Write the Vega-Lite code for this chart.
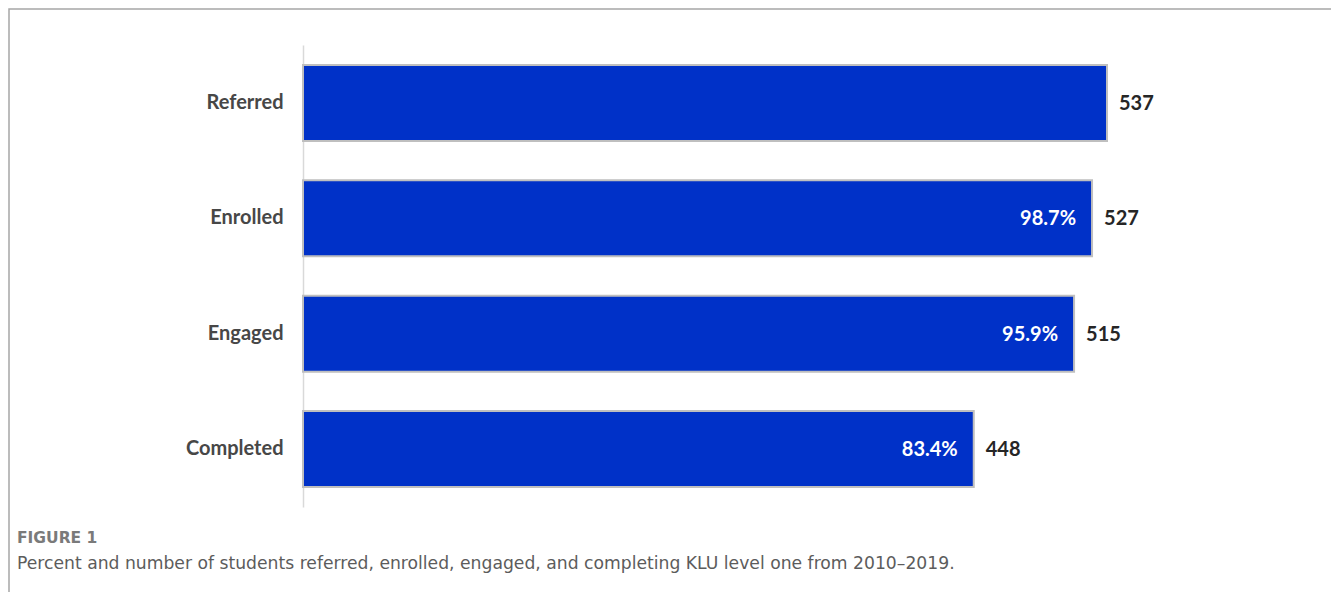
{
  "$schema": "https://vega.github.io/schema/vega-lite/v6.json",
  "width": 1330,
  "height": 590,
  "autosize": "none",
  "padding": {"left": 9, "top": 9, "right": 0, "bottom": 0},
  "background": "white",
  "config": {"view": {"stroke": "#a6a6a6", "strokeWidth": 1.5}},
  "title": {
    "text": "FIGURE 1",
    "subtitle": "Percent and number of students referred, enrolled, engaged, and completing KLU level one from 2010\u20132019.",
    "orient": "bottom",
    "anchor": "start",
    "frame": "group",
    "offset": -68,
    "dx": 8,
    "font": "DejaVu Sans",
    "fontSize": 15.5,
    "fontWeight": "bold",
    "color": "#7a7a7a",
    "subtitleFont": "DejaVu Sans",
    "subtitleFontSize": 17.2,
    "subtitleFontWeight": "normal",
    "subtitleColor": "#5c5c5c",
    "subtitlePadding": 8
  },
  "data": {
    "values": [
      {"stage": "Referred", "n": 537, "pct": ""},
      {"stage": "Enrolled", "n": 527, "pct": "98.7%"},
      {"stage": "Engaged", "n": 515, "pct": "95.9%"},
      {"stage": "Completed", "n": 448, "pct": "83.4%"}
    ]
  },
  "encoding": {
    "y": {
      "field": "stage",
      "type": "nominal",
      "sort": null,
      "scale": {"range": [36, 498], "paddingInner": 0.342, "paddingOuter": 0.173},
      "axis": {
        "title": null,
        "orient": "left",
        "offset": -294,
        "ticks": false,
        "domainColor": "#d9d9d9",
        "domainWidth": 1.5,
        "labelPadding": 20,
        "labelFont": "Lato",
        "labelFontSize": 20,
        "labelFontWeight": "bold",
        "labelColor": "#474747"
      }
    }
  },
  "layer": [
    {
      "mark": {"type": "bar", "color": "#0031c8", "stroke": "#bfbfbf", "strokeWidth": 2},
      "encoding": {
        "x": {
          "field": "n",
          "type": "quantitative",
          "scale": {"domain": [-196.37, 691.95], "nice": false, "zero": false},
          "axis": null
        }
      }
    },
    {
      "mark": {"type": "text", "align": "right", "baseline": "middle", "dx": -16, "dy": 1, "font": "Lato", "fontSize": 20, "fontWeight": "bold", "color": "white"},
      "encoding": {
        "x": {"field": "n", "type": "quantitative"},
        "text": {"field": "pct", "type": "nominal"}
      }
    },
    {
      "mark": {"type": "text", "align": "left", "baseline": "middle", "dx": 12, "dy": 1, "font": "Lato", "fontSize": 20, "fontWeight": "bold", "color": "#262626"},
      "encoding": {
        "x": {"field": "n", "type": "quantitative"},
        "text": {"field": "n", "type": "quantitative"}
      }
    }
  ]
}
